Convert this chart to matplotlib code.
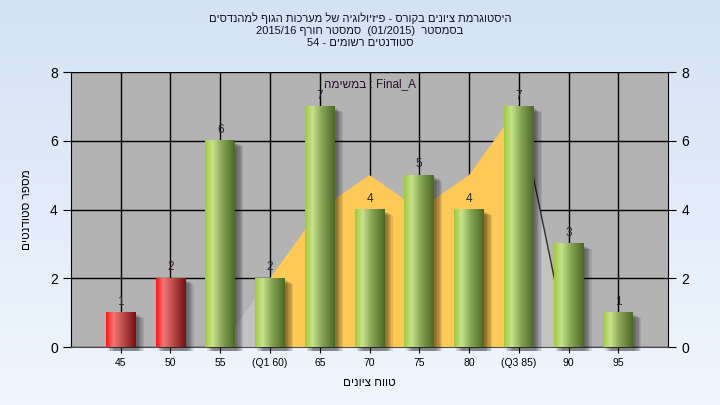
import numpy as np
import matplotlib.pyplot as plt
from matplotlib.colors import LinearSegmentedColormap
from matplotlib.patches import Polygon

# grade ranges and number of students
labels = ['45', '50', '55', '(Q1 60)', '65', '70', '75', '80', '(Q3 85)', '90', '95']
counts = [1, 2, 6, 2, 7, 4, 5, 4, 7, 3, 1]
failed = [True, True, False, False, False, False, False, False, False, False, False]
# background area series
area_vals = [0, 0, 0, 2, 4, 5, 4, 5, 7, 0, 0]

# Hebrew strings written in visual (left to right) order
title_lines = [
    'םיסדנהמל ףוגה תוכרעמ לש היגולויזיפ - סרוקב םינויצ תמרגוטסיה',
    '2015/16 ףרוח רטסמס  (01/2015)  רטסמסב',
    '54 - םימושר םיטנדוטס',
]
ylabel = 'םיטנדוטס רפסמ'
xlabel = 'םינויצ חווט'
task_text = 'המישמב : Final_A'

FONT = ['Liberation Sans', 'DejaVu Sans']
plt.rcParams['font.family'] = FONT

fig = plt.figure(figsize=(7.2, 4.05), dpi=100)

# figure background gradient
bg = fig.add_axes([0, 0, 1, 1], zorder=-10)
grad = np.linspace(0, 1, 256).reshape(-1, 1)
bg_cmap = LinearSegmentedColormap.from_list('bg', ['#d4e2f3', '#f0f6fe'])
bg.imshow(grad, aspect='auto', cmap=bg_cmap, extent=(0, 1, 0, 1))
bg.axis('off')

ax = fig.add_axes([0.0986, 0.1432, 0.8292, 0.679])
ax.set_facecolor('#b3b3b3')
x = np.arange(len(labels))

# grid
for xi in x:
    ax.axvline(xi, color='black', lw=1.0, zorder=1)
for yi in range(0, 9, 2):
    ax.axhline(yi, color='black', lw=1.0, zorder=1)

# area series: orange in the middle, light grey on the flanks
xs = x.astype(float)
ys = np.array(area_vals, dtype=float)
mid = slice(3, 9)
pts = [(xs[3], 0)] + list(zip(xs[mid], ys[mid])) + [(xs[8], 0)]
ax.add_patch(Polygon(pts, closed=True, fc='#ffc955', ec='none', zorder=2))
ax.add_patch(Polygon([(xs[2], 0), (xs[3], ys[3]), (xs[3], 0)], closed=True,
                     fc='#c2c2c2', ec='none', zorder=2))
ax.add_patch(Polygon([(xs[8], 0), (xs[8], ys[8]), (xs[9], ys[9])], closed=True,
                     fc='#c2c2c2', ec='none', zorder=2))
ax.plot([xs[8], xs[9]], [ys[8], ys[9]], color='#303030', lw=1.0, zorder=2.5)

red_cmap = LinearSegmentedColormap.from_list(
    'red', [(0, '#ff1414'), (0.25, '#f27676'), (1, '#761010')])
green_cmap = LinearSegmentedColormap.from_list(
    'green', [(0, '#9ccb3a'), (0.25, '#c8e28c'), (0.55, '#8aa858'), (1, '#4a6824')])

w = 0.6
hgrad = np.linspace(0, 1, 128).reshape(1, -1)
for xi, c, f in zip(x, counts, failed):
    # soft shadow
    for k in range(6):
        off = 0.04 + k * 0.025
        ax.add_patch(plt.Rectangle((xi - w / 2 + off, -0.12), w, c + 0.12 - 0.06 - k * 0.02,
                                   fc='black', ec='none', alpha=0.09, zorder=3,
                                   clip_on=False))
    ax.imshow(hgrad, aspect='auto', cmap=red_cmap if f else green_cmap,
              extent=(xi - w / 2, xi + w / 2, 0, c), zorder=4, interpolation='bilinear')
    ax.text(xi, c + 0.14, str(c), ha='center', va='bottom', fontsize=8.5,
            color='#4a1c1c' if f else '#1e2a3c', zorder=5)

ax.set_xlim(-1, len(labels))
ax.set_ylim(0, 8)
ax.set_xticks(x)
ax.set_xticklabels(labels, fontsize=7.5)
ax.set_yticks(range(0, 9, 2))
ax.tick_params(axis='y', labelsize=10, length=6, direction='out',
               right=True, labelright=True)
ax.tick_params(axis='x', length=4, direction='out', pad=4)
ax.spines['top'].set_visible(False)
ax.spines['bottom'].set_color('#505050')

ax.set_ylabel(ylabel, fontsize=8.5)
ax.yaxis.set_label_coords(-38 / 597, 0.5)
ax.set_xlabel(xlabel, fontsize=8.5)
ax.xaxis.set_label_coords(0.5, -30 / 275)

ax.text(0.5, 0.955, task_text, transform=ax.transAxes, ha='center', va='center',
        fontsize=8.5, color='#2a1030', zorder=6)

for i, line in enumerate(title_lines):
    fig.text(0.5, 1 - (18 + i * 12.5) / 405, line, ha='center', va='center',
             fontsize=8, color='#10102a')

fig.savefig('out.png', dpi=100)
